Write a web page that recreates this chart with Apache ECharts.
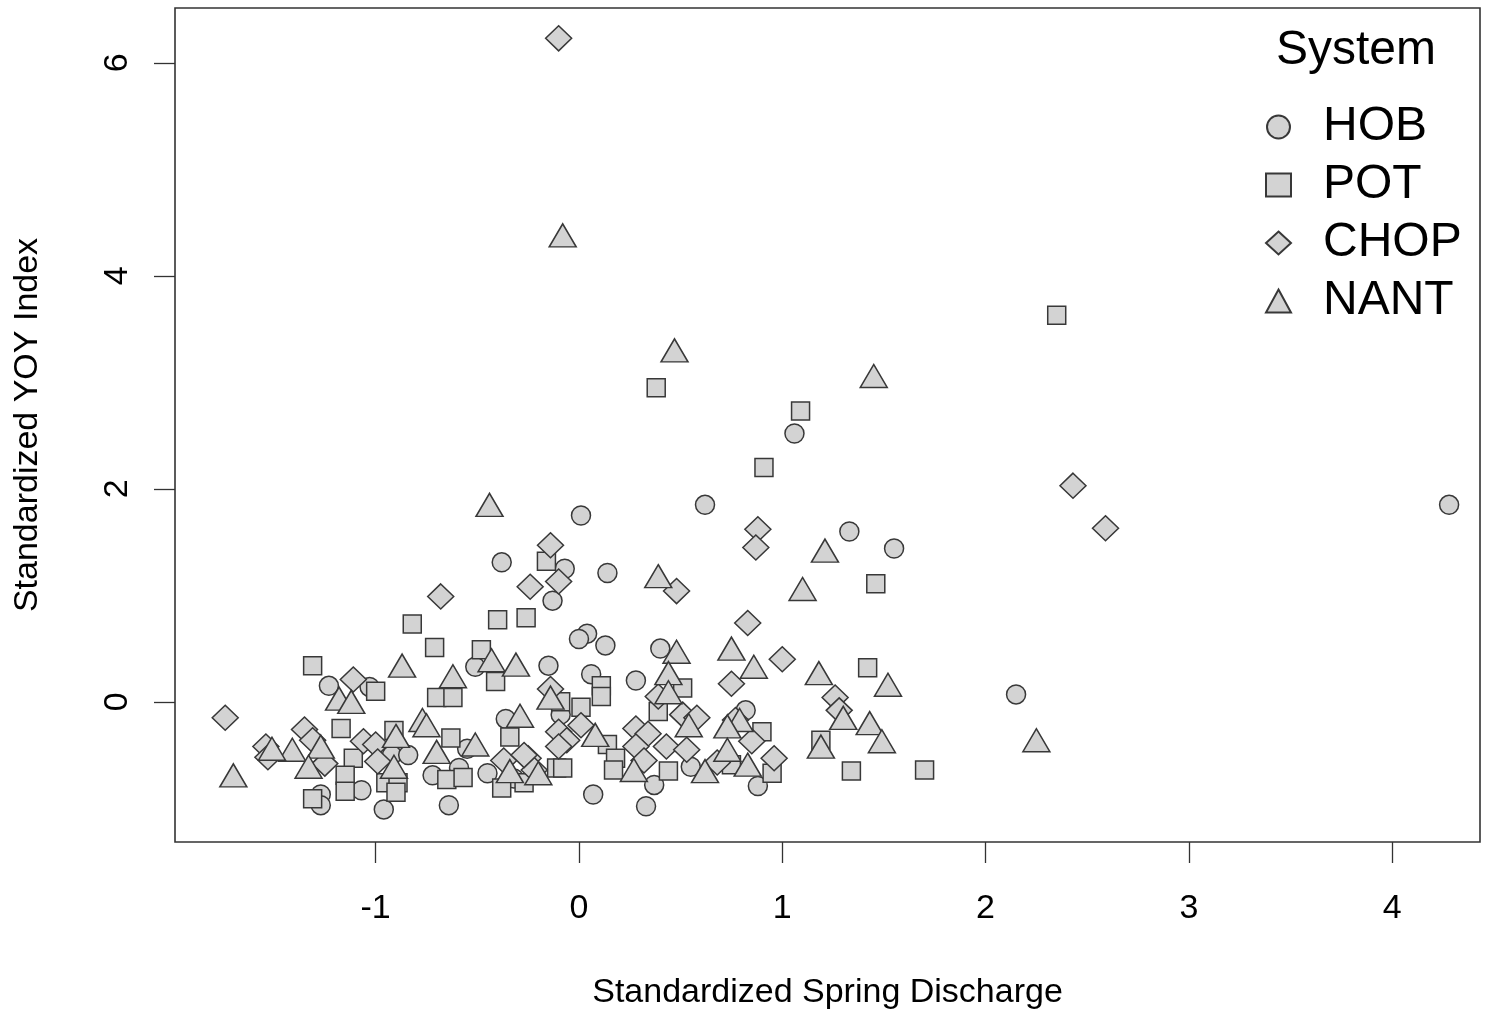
<!DOCTYPE html>
<html>
<head>
<meta charset="utf-8">
<script src="https://cdn.jsdelivr.net/npm/echarts@6/dist/echarts.min.js"></script>
<style>
html,body{margin:0;padding:0;background:#fff;}
#chart{width:1487px;height:1015px;}
</style>
</head>
<body>
<div id="chart"></div>
<script>
// ---- Data ----
var seriesNames = ['HOB', 'POT', 'CHOP', 'NANT'];
var xTickValues = [-1, 0, 1, 2, 3, 4];
var yTickValues = [0, 2, 4, 6];

var hobPoints = [
  [1.06,2.52],[4.28,1.85],[0.62,1.85],[0.01,1.75],[1.33,1.60],[1.55,1.44],
  [-0.38,1.31],[-0.07,1.25],[0.14,1.21],[-0.13,0.95],[0.04,0.64],[0.00,0.59],
  [0.13,0.53],[0.40,0.50],[-0.51,0.33],[-0.15,0.34],[0.06,0.26],[0.28,0.20],
  [-1.23,0.15],[-1.03,0.14],[2.15,0.07],[-0.09,-0.12],[-0.36,-0.16],[0.82,-0.08],
  [-0.92,-0.50],[-0.84,-0.50],[-0.55,-0.44],[0.55,-0.61],[-0.72,-0.69],[-0.59,-0.62],
  [-0.45,-0.67],[-0.32,-0.72],[-1.07,-0.83],[-1.27,-0.87],[-1.27,-0.97],[-0.96,-1.01],
  [-0.64,-0.97],[0.07,-0.87],[0.33,-0.98],[0.37,-0.78],[0.88,-0.79]
];
var potPoints = [
  [2.35,3.63],[0.38,2.95],[1.09,2.73],[0.91,2.20],[-0.16,1.32],[1.46,1.11],
  [-0.82,0.73],[-0.40,0.77],[-0.26,0.79],[-0.71,0.51],[-0.48,0.49],[-1.31,0.34],
  [1.42,0.32],[-0.41,0.19],[-1.00,0.10],[-0.70,0.04],[-0.62,0.04],[0.11,0.15],
  [0.11,0.05],[0.51,0.13],[-0.09,0.00],[0.01,-0.05],[0.39,-0.09],[-1.17,-0.25],
  [-0.91,-0.27],[-0.34,-0.33],[-0.63,-0.34],[0.14,-0.40],[0.90,-0.28],[1.19,-0.36],
  [-1.11,-0.53],[0.18,-0.53],[-1.15,-0.69],[-1.15,-0.84],[-1.31,-0.91],[-0.95,-0.76],
  [-0.89,-0.76],[-0.90,-0.85],[-0.65,-0.73],[-0.57,-0.71],[-0.38,-0.81],[-0.27,-0.76],
  [-0.11,-0.62],[-0.08,-0.62],[0.17,-0.64],[0.44,-0.65],[0.75,-0.59],[0.95,-0.67],
  [1.34,-0.65],[1.70,-0.64]
];
var chopPoints = [
  [-0.10,6.23],[2.43,2.03],[2.59,1.63],[0.88,1.62],[0.87,1.45],[-0.14,1.47],
  [-0.10,1.13],[-0.24,1.08],[-0.68,0.99],[0.48,1.04],[0.83,0.74],[1.00,0.40],
  [-1.11,0.21],[0.75,0.17],[-0.14,0.12],[1.26,0.04],[1.28,-0.08],[-1.74,-0.15],
  [0.39,0.05],[-1.35,-0.26],[-1.31,-0.36],[-1.54,-0.42],[-1.53,-0.52],[-1.25,-0.58],
  [-1.06,-0.37],[-1.00,-0.40],[-0.99,-0.56],[0.01,-0.22],[-0.10,-0.28],[-0.06,-0.36],
  [-0.10,-0.42],[-0.37,-0.55],[-0.25,-0.53],[-0.22,-0.64],[0.28,-0.25],[0.34,-0.30],
  [0.28,-0.42],[0.43,-0.42],[0.53,-0.45],[0.32,-0.55],[0.51,-0.12],[0.58,-0.15],
  [0.68,-0.57],[0.77,-0.17],[0.85,-0.37],[0.96,-0.53],[-0.27,-0.50]
];
var nantPoints = [
  [-0.08,4.38],[0.47,3.30],[1.45,3.06],[-0.44,1.85],[1.21,1.42],[0.39,1.18],
  [1.10,1.06],[0.75,0.50],[0.48,0.47],[-0.87,0.34],[0.86,0.33],[1.18,0.27],
  [1.52,0.16],[-0.62,0.24],[-0.43,0.39],[-0.31,0.35],[0.44,0.27],[0.44,0.09],
  [-1.18,0.03],[-1.12,0.00],[-0.14,0.04],[1.30,-0.15],[1.43,-0.20],[1.49,-0.37],
  [1.19,-0.42],[2.25,-0.36],[0.54,-0.22],[0.79,-0.17],[0.73,-0.23],[0.73,-0.45],
  [0.83,-0.59],[0.62,-0.65],[0.27,-0.64],[0.08,-0.31],[-0.29,-0.13],[-0.77,-0.17],
  [-0.75,-0.22],[-0.90,-0.32],[-0.91,-0.61],[-0.70,-0.47],[-0.51,-0.40],[-1.41,-0.45],
  [-1.27,-0.42],[-1.33,-0.61],[-1.70,-0.69],[-1.51,-0.44],[-0.34,-0.65],[-0.20,-0.67]
];

// ---- Chart ----
var FONT = '"Liberation Sans", Arial, sans-serif';
var fill = '#d3d3d3';
var edge = '#383838';
var pointStyle = { color: fill, borderColor: edge, borderWidth: 1.5, opacity: 1 };

function mkSeries(name, data, symbol, size) {
  return {
    name: name, type: 'scatter', data: data,
    symbol: symbol, symbolSize: size,
    itemStyle: pointStyle,
    emphasis: { disabled: true },
    silent: true
  };
}

var chart = echarts.init(document.getElementById('chart'), null, { renderer: 'canvas' });
chart.setOption({
  animation: false,
  backgroundColor: '#ffffff',
  title: {
    text: 'System', left: 1276, top: 27, padding: 0,
    textStyle: { fontFamily: FONT, fontSize: 48, fontWeight: 'normal', color: '#000' }
  },
  legend: {
    orient: 'vertical', left: 1265, top: 102, padding: 0,
    itemWidth: 25, itemHeight: 23, itemGap: 8,
    data: seriesNames,
    selectedMode: false,
    textStyle: { fontFamily: FONT, fontSize: 48, color: '#000', lineHeight: 50, padding: [0, 0, 0, 27] }
  },
  grid: {
    left: 175, top: 8, width: 1305, height: 836,
    show: true, borderColor: '#333', borderWidth: 1.6, backgroundColor: 'transparent'
  },
  xAxis: {
    type: 'value', min: -1.987, max: 4.432,
    name: 'Standardized Spring Discharge', nameLocation: 'middle', nameGap: 134,
    nameTextStyle: { fontFamily: FONT, fontSize: 34, color: '#000' },
    axisLine: { show: false, onZero: false },
    splitLine: { show: false },
    axisTick: { show: true, length: 21, customValues: xTickValues, lineStyle: { color: '#333', width: 1.3 } },
    axisLabel: { customValues: xTickValues, margin: 50, fontFamily: FONT, fontSize: 34, color: '#000' }
  },
  yAxis: {
    type: 'value', min: -1.316, max: 6.515,
    name: 'Standardized YOY Index', nameLocation: 'middle', nameGap: 130,
    nameTextStyle: { fontFamily: FONT, fontSize: 34, color: '#000' },
    axisLine: { show: false, onZero: false },
    splitLine: { show: false },
    axisTick: { show: true, length: 21, customValues: yTickValues, lineStyle: { color: '#333', width: 1.3 } },
    axisLabel: { customValues: yTickValues, rotate: 90, margin: 40, fontFamily: FONT, fontSize: 34, color: '#000' }
  },
  series: [
    mkSeries('HOB', hobPoints, 'circle', 19),
    mkSeries('POT', potPoints, 'rect', 18),
    mkSeries('CHOP', chopPoints, 'diamond', [26, 25]),
    mkSeries('NANT', nantPoints, 'triangle', [27, 23])
  ]
});
</script>
</body>
</html>
